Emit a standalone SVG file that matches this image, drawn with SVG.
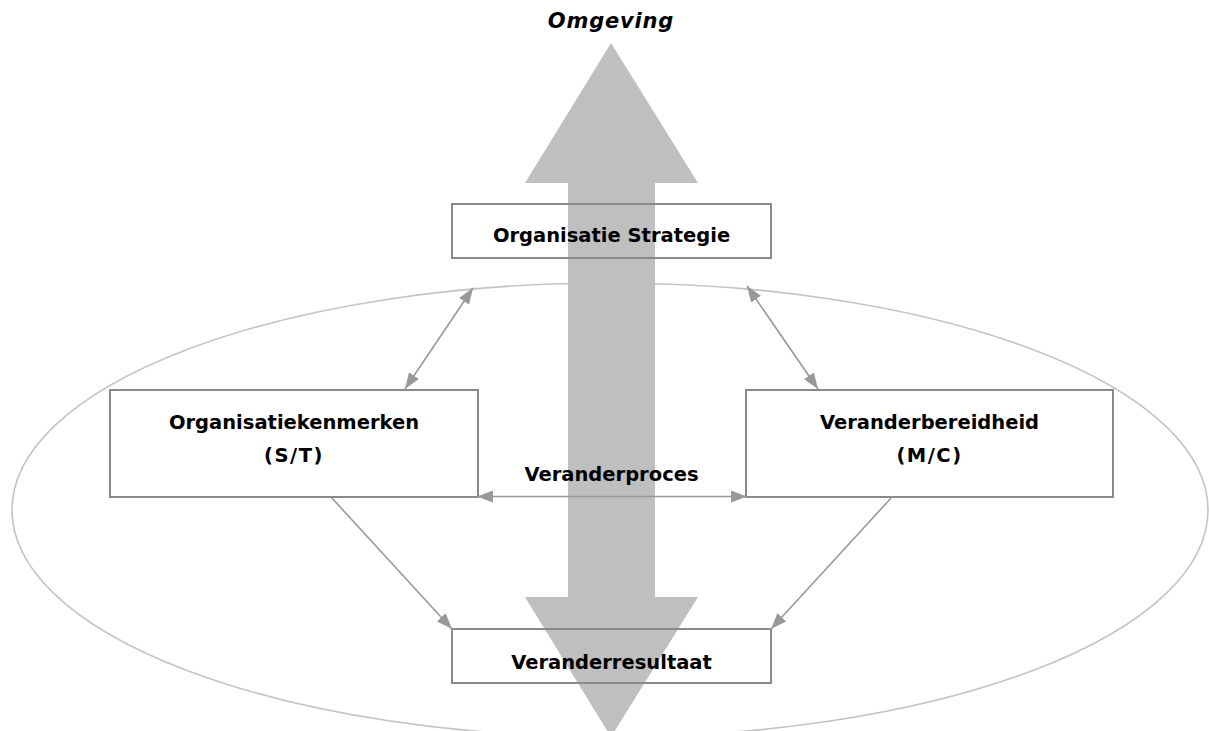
<svg xmlns="http://www.w3.org/2000/svg" width="1209" height="731" viewBox="0 0 1209 731">
  <style>
    .box-fill { fill: #ffffff; stroke: none; }
    .box-edge { fill: none; stroke: #8a8a8a; stroke-width: 2; }
    .label { font-family: "DejaVu Sans", Verdana, sans-serif; font-weight: bold; font-size: 19.5px; fill: #000000; text-anchor: middle; }
    .title { font-style: italic; font-size: 21px; letter-spacing: 0.8px; }
    .link { fill: none; stroke: #999999; stroke-width: 1.6; marker-end: url(#head); }
    .both { marker-start: url(#head); }
    .scope { fill: none; stroke: #c4c4c4; stroke-width: 1.6; }
    .flow { fill: #bfbfbf; stroke: none; }
  </style>
  <defs>
    <marker id="head" viewBox="0 0 16 12" refX="16" refY="6" markerWidth="16" markerHeight="12" markerUnits="userSpaceOnUse" orient="auto-start-reverse">
      <path d="M0,0 L16,6 L0,12 z" fill="#999999"/>
    </marker>
  </defs>

  <rect width="1209" height="731" fill="#ffffff"/>

  <!-- organisation boundary -->
  <ellipse class="scope" cx="610" cy="510" rx="598" ry="227"/>

  <!-- box backgrounds sit beneath the environment arrow -->
  <g id="fills">
    <rect class="box-fill" x="452" y="204" width="319" height="54"/>
    <rect class="box-fill" x="110" y="390" width="368" height="107"/>
    <rect class="box-fill" x="746" y="390" width="367" height="107"/>
    <rect class="box-fill" x="452" y="629" width="319" height="54"/>
  </g>

  <!-- environment: two-way vertical arrow -->
  <g id="omgeving-arrow">
    <polygon class="flow" points="611,43 698,183 655,183 655,597 698,597 611,737 525,597 568,597 568,183 525,183"/>
  </g>

  <g id="strategie">
    <rect class="box-edge" x="452" y="204" width="319" height="54"/>
    <text class="label" x="611.5" y="242">Organisatie Strategie</text>
  </g>

  <g id="kenmerken">
    <rect class="box-edge" x="110" y="390" width="368" height="107"/>
    <text class="label" x="294" y="429">Organisatiekenmerken</text>
    <text class="label" x="294" y="462" letter-spacing="1.5">(S/T)</text>
  </g>

  <g id="bereidheid">
    <rect class="box-edge" x="746" y="390" width="367" height="107"/>
    <text class="label" x="929.5" y="429">Veranderbereidheid</text>
    <text class="label" x="929.5" y="462" letter-spacing="1.5">(M/C)</text>
  </g>

  <g id="resultaat">
    <rect class="box-edge" x="452" y="629" width="319" height="54"/>
    <text class="label" x="611.5" y="669">Veranderresultaat</text>
  </g>

  <g id="connectors">
    <line class="link both" x1="405" y1="389" x2="473" y2="288"/>
    <line class="link both" x1="818" y1="389" x2="747" y2="286"/>
    <line class="link both" x1="477" y1="496.5" x2="747" y2="496.5"/>
    <line class="link" x1="331" y1="497" x2="452" y2="629"/>
    <line class="link" x1="892" y1="497" x2="771" y2="629"/>
  </g>

  <g id="labels">
    <text class="label title" x="611" y="28">Omgeving</text>
    <text class="label" x="611.5" y="481">Veranderproces</text>
  </g>
</svg>
